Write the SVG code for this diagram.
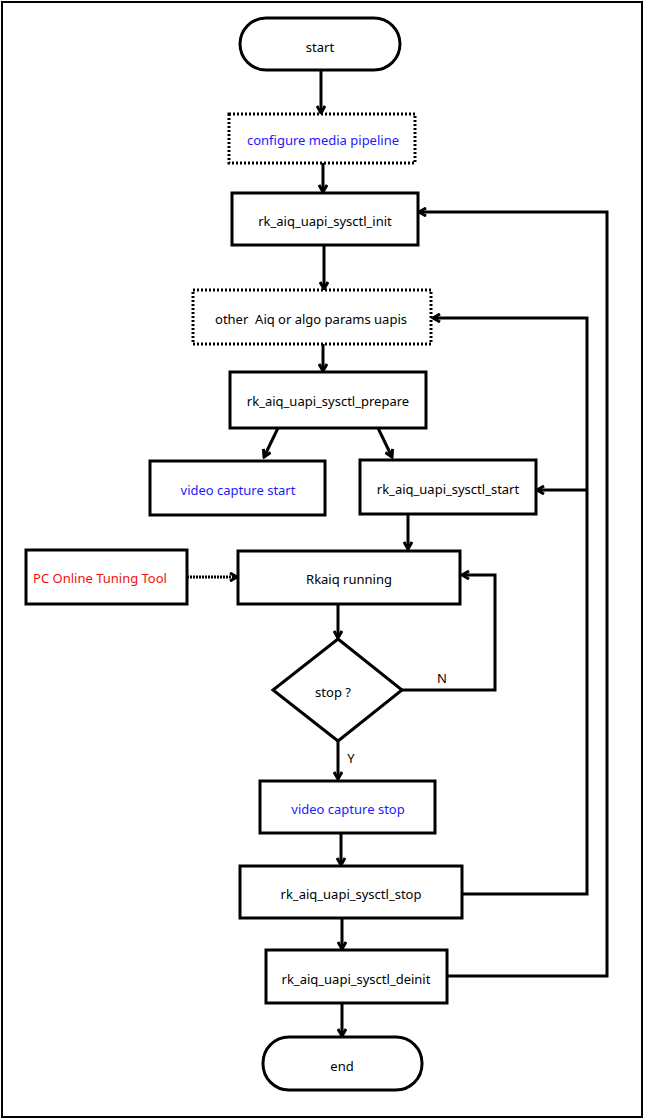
<svg xmlns="http://www.w3.org/2000/svg" width="645" height="1120" viewBox="0 0 645 1120">
<style>
.b{fill:#fff;stroke:#000;stroke-width:3}
.d{fill:#fff;stroke:#000;stroke-width:3;stroke-dasharray:2 2}
text{font-family:"Noto Sans","Liberation Sans",sans-serif;font-size:13px;text-anchor:middle;dominant-baseline:central;fill:#000}
.bl{fill:#1a1aff}.rd{fill:#f01010}
.c path{fill:none;stroke:#000;stroke-width:3;marker-end:url(#a)}
</style>
<defs><marker id="a" markerWidth="10" markerHeight="10" refX="8" refY="5" orient="auto" markerUnits="userSpaceOnUse"><path d="M1,1 L8,5 L1,9" fill="none" stroke="#000" stroke-width="3"/></marker></defs>
<rect x="2" y="2" width="640" height="1115" fill="#fff" stroke="#000" stroke-width="2"/>
<g class="c">
<path d="M321,70V113"/>
<path d="M323,163V192"/>
<path d="M324,245V289"/>
<path d="M323,344V371"/>
<path d="M278,428L264,457"/>
<path d="M378,428L392,457"/>
<path d="M408,514V549"/>
<path d="M187,577H237" style="stroke-dasharray:2 1"/>
<path d="M338,604V638"/>
<path d="M402,690H495V575H462"/>
<path d="M338,741V779"/>
<path d="M341,833V865"/>
<path d="M342,918V949"/>
<path d="M342,1003V1036"/>
<path d="M462,894H587V318H433"/>
<path d="M587,490H537"/>
<path d="M447,976H607V212H419"/>
</g>
<g id="start"><rect class="b" x="240" y="18" width="160" height="52" rx="26"/><text x="320" y="47">start</text></g>
<g id="config"><rect class="d" x="229" y="114" width="186" height="49"/><text class="bl" x="323" y="140">configure media pipeline</text></g>
<g id="init"><rect class="b" x="232" y="193" width="186" height="52"/><text x="325" y="221">rk_aiq_uapi_sysctl_init</text></g>
<g id="other"><rect class="d" x="193" y="290" width="238" height="54"/><text x="311" y="319" xml:space="preserve" style="white-space:pre">other  Aiq or algo params uapis</text></g>
<g id="prepare"><rect class="b" x="230" y="372" width="196" height="56"/><text x="328" y="401">rk_aiq_uapi_sysctl_prepare</text></g>
<g id="vcs"><rect class="b" x="150" y="461" width="175" height="54"/><text class="bl" x="238" y="490">video capture start</text></g>
<g id="sstart"><rect class="b" x="360" y="460" width="176" height="54"/><text x="448" y="489">rk_aiq_uapi_sysctl_start</text></g>
<g id="pc"><rect class="b" x="26" y="550" width="161" height="54"/><text class="rd" x="100" y="578">PC Online Tuning Tool</text></g>
<g id="running"><rect class="b" x="238" y="551" width="222" height="53"/><text x="349" y="579">Rkaiq running</text></g>
<g id="stopq"><path class="b" d="M338,639L402,690L338,741L273,690Z"/><text x="333" y="692">stop ?</text></g>
<text x="442" y="678">N</text>
<text x="351" y="758">Y</text>
<g id="vcstop"><rect class="b" x="260" y="781" width="175" height="52"/><text class="bl" x="348" y="809">video capture stop</text></g>
<g id="sstop"><rect class="b" x="240" y="866" width="222" height="52"/><text x="351" y="894">rk_aiq_uapi_sysctl_stop</text></g>
<g id="deinit"><rect class="b" x="266" y="950" width="181" height="53"/><text x="356" y="979">rk_aiq_uapi_sysctl_deinit</text></g>
<g id="end"><rect class="b" x="263" y="1037" width="159" height="53" rx="26"/><text x="342" y="1066">end</text></g>
</svg>
